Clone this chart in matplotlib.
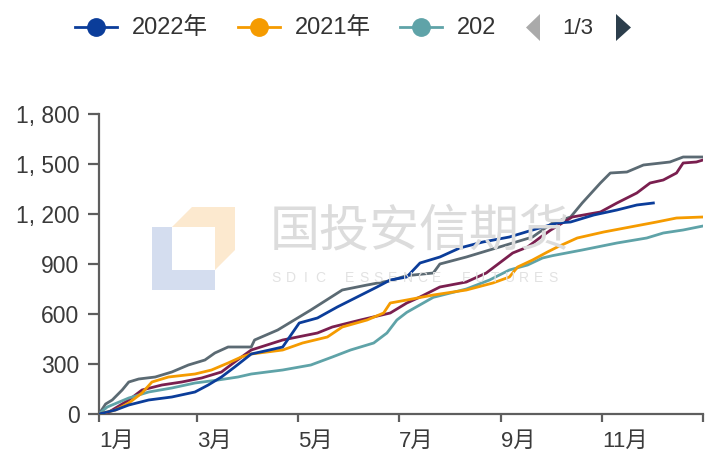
"""Cumulative yearly count chart (5 years), with paged legend and watermark."""
import matplotlib
matplotlib.use("Agg")
import matplotlib.pyplot as plt
from matplotlib.lines import Line2D
from matplotlib.patches import Polygon
from matplotlib.ticker import FuncFormatter

plt.rcParams["font.family"] = ["Liberation Sans", "Noto Sans CJK SC", "DejaVu Sans"]

W, H = 705, 458

# day-of-year / cumulative value
day_2022 = [0, 10, 18, 30, 44, 58, 66, 74, 82, 92, 103, 111, 121, 132, 144, 156, 168, 176,
            186, 194, 206, 218, 232, 248, 262, 277, 285, 299, 313, 325, 335]
val_2022 = [0, 24, 54, 84, 102, 132, 174, 222, 282, 360, 384, 402, 546, 576, 642, 702, 762, 804,
            822, 906, 942, 996, 1032, 1062, 1104, 1146, 1152, 1194, 1224, 1254, 1266]

day_2021 = [0, 10, 18, 26, 32, 42, 58, 68, 78, 86, 92, 111, 123, 138, 147, 162, 172, 176,
            186, 202, 222, 238, 248, 253, 262, 271, 277, 289, 305, 321, 337, 349, 365]
val_2021 = [0, 24, 66, 126, 192, 222, 240, 264, 306, 342, 360, 384, 426, 462, 522, 564, 606, 666,
            684, 714, 744, 786, 822, 882, 924, 972, 1002, 1056, 1092, 1122, 1152, 1176, 1182]

day_2020 = [0, 5, 18, 30, 44, 58, 72, 84, 92, 111, 128, 141, 152, 166, 174, 180, 186, 202,
            222, 236, 248, 259, 268, 274, 292, 313, 331, 341, 353, 365]
val_2020 = [0, 42, 96, 132, 156, 186, 204, 222, 240, 264, 294, 342, 384, 426, 486, 564, 610, 700,
            750, 804, 864, 894, 936, 950, 984, 1026, 1056, 1086, 1104, 1128]

day_2019 = [0, 4, 18, 26, 38, 50, 62, 74, 82, 92, 111, 132, 141, 158, 176, 186, 194, 206, 222,
            234, 242, 250, 259, 267, 273, 286, 303, 313, 325, 333, 341, 349, 353, 361, 365]
val_2019 = [0, 0, 84, 144, 174, 192, 216, 252, 312, 384, 444, 486, 522, 564, 606, 666, 702, 762, 792,
            846, 906, 966, 1002, 1062, 1104, 1182, 1212, 1266, 1326, 1386, 1404, 1446, 1506, 1512, 1524]

day_2018 = [0, 4, 8, 14, 18, 24, 34, 44, 54, 64, 70, 78, 92, 94, 108, 128, 147, 162, 176, 186,
            202, 206, 222, 242, 262, 274, 285, 292, 303, 309, 319, 329, 345, 353, 365]
val_2018 = [0, 60, 84, 144, 192, 210, 222, 252, 294, 324, 366, 402, 402, 444, 504, 624, 744, 774, 800, 830,
            846, 900, 942, 1002, 1062, 1146, 1182, 1266, 1386, 1446, 1452, 1494, 1512, 1542, 1542]

month_days = [0, 59, 120, 181, 243, 304, 365]
month_labels = ["1月", "3月", "5月", "7月", "9月", "11月", ""]
legend_labels = ["2022年", "2021年", "202"]

colors = {"2022": "#0b3d9a", "2021": "#f59b00", "2020": "#5fa3a8",
          "2019": "#7a1f4f", "2018": "#5b6a73"}


def px(x, y):
    return x / W, 1 - y / H


fig = plt.figure(figsize=(W / 100, H / 100), dpi=100)
ax = fig.add_axes([99 / W, (H - 414) / H, 604 / W, 300 / H])

# watermark (behind the data)
blue_logo = [px(152, 227), px(172, 227), px(172, 270), px(215, 270), px(215, 290), px(152, 290)]
orange_logo = [px(172, 227), px(192, 207), px(235, 207), px(235, 250), px(215, 270), px(215, 227)]
fig.add_artist(Polygon(blue_logo, closed=True, transform=fig.transFigure,
                       facecolor="#d4ddef", edgecolor="none", zorder=0))
fig.add_artist(Polygon(orange_logo, closed=True, transform=fig.transFigure,
                       facecolor="#fce9cf", edgecolor="none", zorder=0))
fig.text(*px(420, 232), "国投安信期货", fontsize=36, color="#dcdcdc",
         family="Noto Sans CJK SC", ha="center", va="center", zorder=0)
for i, ch in enumerate("SDIC ESSENCE FUTURES"):
    fig.text(*px(276 + i * 14.6, 278), ch, fontsize=10, color="#e2e2e2",
             ha="center", va="center", zorder=0)
ax.patch.set_alpha(0)

series = [("2018", day_2018, val_2018), ("2019", day_2019, val_2019),
          ("2020", day_2020, val_2020), ("2021", day_2021, val_2021),
          ("2022", day_2022, val_2022)]
for name, d, v in series:
    ax.plot(d, v, color=colors[name], lw=2.0, zorder=3)

ax.set_xlim(0, 365)
ax.set_ylim(0, 1800)
ax.set_yticks(range(0, 1801, 300))
ax.yaxis.set_major_formatter(FuncFormatter(lambda v, _: f"{int(v):,}".replace(",", ", ")))
ax.set_xticks(month_days)
ax.set_xticklabels(month_labels)

for s in ["top", "right"]:
    ax.spines[s].set_visible(False)
for s in ["left", "bottom"]:
    ax.spines[s].set_color("#5e5e5e")
    ax.spines[s].set_linewidth(1.6)
ax.tick_params(axis="y", direction="out", length=8, width=1.6, color="#5e5e5e",
               labelsize=16.5, labelcolor="#3a3a3a", pad=6)
ax.tick_params(axis="x", direction="out", length=6, width=1.6, color="#5e5e5e",
               labelsize=16, labelcolor="#3a3a3a", pad=6)
for lbl in ax.get_xticklabels():
    lbl.set_horizontalalignment("left")

# paged legend at the top
leg_x = [75, 238, 400]
for x0, lab, key in zip(leg_x, legend_labels, ["2022", "2021", "2020"]):
    fig.add_artist(Line2D([x0 / W, (x0 + 42) / W], [1 - 27 / H] * 2, color=colors[key],
                          lw=2, transform=fig.transFigure))
    fig.add_artist(Line2D([(x0 + 21) / W], [1 - 27 / H], marker="o", markersize=12.5,
                          color=colors[key], transform=fig.transFigure))
    fig.text(*px(x0 + 57, 28), lab, fontsize=17, color="#333333", ha="left", va="center")

fig.add_artist(Polygon([px(540, 14), px(540, 41), px(526, 27.5)], closed=True,
                       transform=fig.transFigure, facecolor="#aaaaaa", edgecolor="none"))
fig.text(*px(578, 28), "1/3", fontsize=16, color="#333333", ha="center", va="center")
fig.add_artist(Polygon([px(616, 14), px(616, 41), px(631, 27.5)], closed=True,
                       transform=fig.transFigure, facecolor="#2c3e4c", edgecolor="none"))

fig.savefig("out.png", dpi=100)
